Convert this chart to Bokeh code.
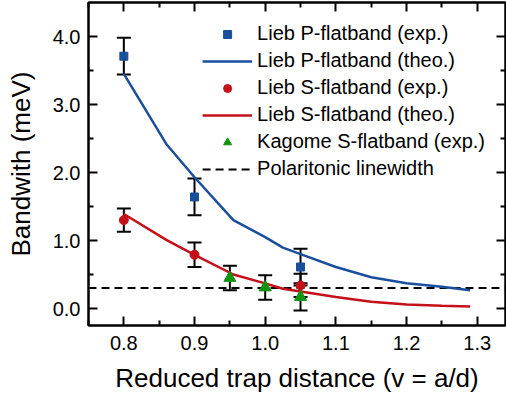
from bokeh.plotting import figure
from bokeh.models import (Range1d, LinearAxis, FixedTicker, Whisker, ColumnDataSource,
                          Legend, LegendItem, NumeralTickFormatter, CustomJSTickFormatter)
from bokeh.embed import file_html
from bokeh.resources import INLINE

# ---- data ----
p_exp_x = [0.80, 0.90, 1.05]
p_exp_y = [3.71, 1.64, 0.61]
p_exp_err = [0.27, 0.27, 0.27]

s_exp_x = [0.80, 0.90, 1.05]
s_exp_y = [1.30, 0.79, 0.34]
s_exp_err = [0.17, 0.18, 0.17]

k_exp_x = [0.95, 1.00, 1.05]
k_exp_y = [0.45, 0.31, 0.17]
k_exp_err = [0.18, 0.18, 0.20]

theo_x = [0.80, 0.86, 0.90, 0.955, 1.00, 1.025, 1.05, 1.10, 1.15, 1.20, 1.25, 1.29]
p_theo = [3.45, 2.42, 1.93, 1.30, 1.05, 0.895, 0.80, 0.61, 0.46, 0.37, 0.32, 0.27]
s_theo = [1.39, 1.01, 0.79, 0.50, 0.37, 0.29, 0.25, 0.17, 0.10, 0.06, 0.04, 0.03]

linewidth = 0.30
x_lo, x_hi = 0.75, 1.34
y_lo, y_hi = -0.25, 4.5

x_ticks = [0.8, 0.9, 1.0, 1.1, 1.2, 1.3]
x_minor = [0.75, 0.85, 0.95, 1.05, 1.15, 1.25]
y_ticks = [0, 1, 2, 3, 4]
y_minor = [0.5, 1.5, 2.5, 3.5]

BLUE = "#1a4f9c"
RED = "#c41018"
GREEN = "#119411"
FONT = "Liberation Sans"

p = figure(width=506, height=401, output_backend="svg", toolbar_location=None,
           x_range=Range1d(x_lo, x_hi), y_range=Range1d(y_lo, y_hi),
           min_border_left=88, min_border_right=1, min_border_top=2, min_border_bottom=76,
           background_fill_color="white", border_fill_color="white")
p.grid.visible = False
p.outline_line_color = "black"
p.outline_line_width = 2


def style_axis(ax, labels=True):
    ax.axis_line_width = 2
    ax.axis_line_color = "black"
    ax.major_tick_in = 9
    ax.major_tick_out = 0
    ax.minor_tick_in = 5
    ax.minor_tick_out = 0
    ax.major_tick_line_width = 2
    ax.minor_tick_line_width = 2
    ax.major_label_text_font = FONT
    ax.axis_label_text_font = FONT
    ax.axis_label_text_font_style = "normal"
    ax.axis_label_text_color = "black"
    ax.major_label_text_color = "black"
    if not labels:
        ax.formatter = CustomJSTickFormatter(code="return '';")
        ax.major_label_standoff = 0


xt = FixedTicker(ticks=x_ticks, minor_ticks=x_minor)
yt = FixedTicker(ticks=y_ticks, minor_ticks=y_minor)

p.xaxis.ticker = xt
p.yaxis.ticker = yt
p.xaxis.formatter = NumeralTickFormatter(format="0.0")
p.yaxis.formatter = NumeralTickFormatter(format="0.0")
for ax in p.xaxis + p.yaxis:
    style_axis(ax)
p.xaxis.major_label_text_font_size = "20px"
p.yaxis.major_label_text_font_size = "20px"
p.xaxis.major_label_standoff = 10
p.yaxis.major_label_standoff = 8
p.xaxis.axis_label = "Reduced trap distance (v = a/d)"
p.yaxis.axis_label = "Bandwith (meV)"
p.xaxis.axis_label_text_font_size = "26px"
p.yaxis.axis_label_text_font_size = "26px"
p.xaxis.axis_label_standoff = 10
p.yaxis.axis_label_standoff = 14

top = LinearAxis(ticker=xt)
style_axis(top, labels=False)
p.add_layout(top, "above")
right = LinearAxis(ticker=yt)
style_axis(right, labels=False)
p.add_layout(right, "right")

# dashed linewidth
r_dash = p.line([x_lo, x_hi], [linewidth, linewidth], line_color="black",
                line_width=2, line_dash="8 5")

# theory lines
r_pt = p.line(theo_x, p_theo, line_color=BLUE, line_width=2.5)
r_st = p.line(theo_x, s_theo, line_color=RED, line_width=2.5)

# error bars
for xs, ys, es in [(p_exp_x, p_exp_y, p_exp_err), (s_exp_x, s_exp_y, s_exp_err),
                   (k_exp_x, k_exp_y, k_exp_err)]:
    src = ColumnDataSource(dict(x=xs, lo=[y - e for y, e in zip(ys, es)],
                                hi=[y + e for y, e in zip(ys, es)]))
    w = Whisker(source=src, base="x", lower="lo", upper="hi", dimension="height",
                line_color="black", line_width=2, level="underlay")
    w.upper_head.size = 14
    w.lower_head.size = 14
    w.upper_head.line_width = 2
    w.lower_head.line_width = 2
    w.upper_head.line_color = "black"
    w.lower_head.line_color = "black"
    p.add_layout(w)

r_pe = p.scatter(p_exp_x, p_exp_y, marker="square", size=8, fill_color=BLUE, line_color=BLUE)
r_se = p.scatter(s_exp_x, s_exp_y, marker="circle", size=9, fill_color=RED, line_color=RED)
r_ke = p.scatter(k_exp_x, k_exp_y, marker="triangle", size=12, fill_color=GREEN, line_color=GREEN)

legend = Legend(items=[
    LegendItem(label="Lieb P-flatband (exp.)", renderers=[r_pe]),
    LegendItem(label="Lieb P-flatband (theo.)", renderers=[r_pt]),
    LegendItem(label="Lieb S-flatband (exp.)", renderers=[r_se]),
    LegendItem(label="Lieb S-flatband (theo.)", renderers=[r_st]),
    LegendItem(label="Kagome S-flatband (exp.)", renderers=[r_ke]),
    LegendItem(label="Polaritonic linewidth", renderers=[r_dash]),
], location="top_right")
legend.border_line_color = None
legend.background_fill_alpha = 0
legend.label_text_font = FONT
legend.label_text_font_size = "20px"
legend.label_text_color = "black"
legend.glyph_width = 50
legend.glyph_height = 20
legend.label_height = 20
legend.label_standoff = 5
legend.spacing = 4
legend.padding = 5
legend.margin = 20
p.add_layout(legend)

open("out.html", "w").write(file_html(p, INLINE))
